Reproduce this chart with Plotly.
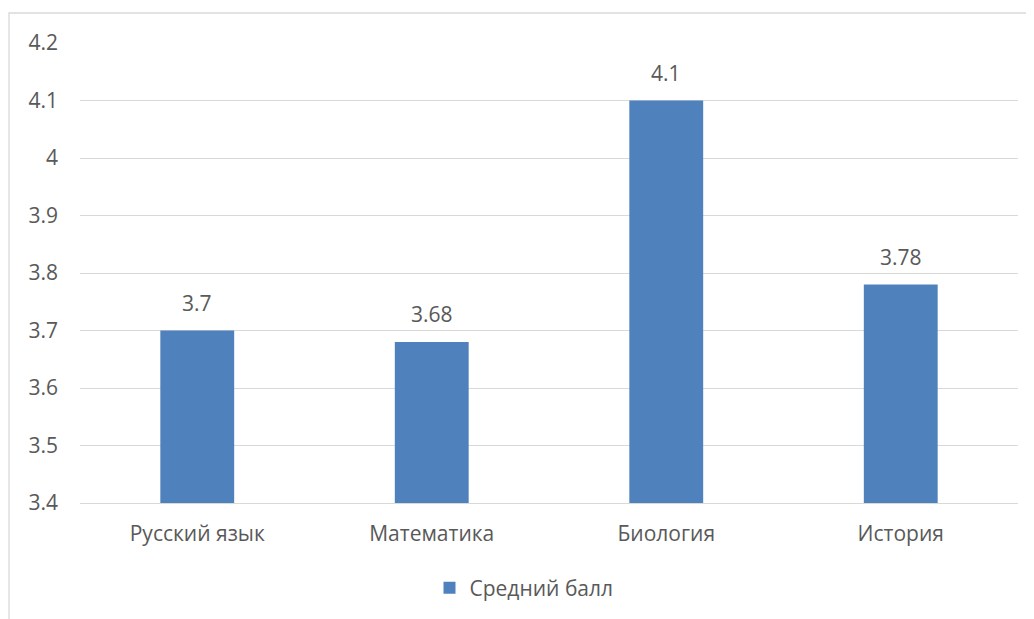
import plotly.graph_objects as go

categories = ["Русский язык", "Математика", "Биология", "История"]
values = [3.7, 3.68, 4.1, 3.78]
value_labels = ["3.7", "3.68", "4.1", "3.78"]
tick_vals = [3.4, 3.5, 3.6, 3.7, 3.8, 3.9, 4.0, 4.1, 4.2]
tick_text = ["3.4", "3.5", "3.6", "3.7", "3.8", "3.9", "4", "4.1", "4.2"]
series_name = "Средний балл"

FONT = "Open Sans, sans-serif"
TXT = "#595959"
FS = 21

fig = go.Figure()
fig.add_trace(go.Bar(x=categories, y=values, name=series_name,
                     marker=dict(color="#4F81BD", line=dict(width=0))))

for c, v, t in zip(categories, values, value_labels):
    fig.add_annotation(x=c, y=v, text=t, showarrow=False, yanchor="bottom",
                       yshift=12, font=dict(family=FONT, size=FS, color=TXT))

# page body has an 8px offset
OFF = 8
L, R, T, B = 80 - OFF, 16 + OFF, 43 - OFF, 116 + OFF
W, H = 1034, 619
pw, ph = W - L - R, H - T - B
fig.add_shape(type="rect", xref="paper", yref="paper",
              x0=(9 - OFF - L) / pw, x1=(1033 - OFF - L) / pw,
              y0=(H - B - 640) / ph, y1=(H - B - (13 - OFF)) / ph,
              line=dict(color="#D9D9D9", width=1.3), fillcolor="rgba(0,0,0,0)",
              layer="below")

fig.update_layout(
    width=W, height=H,
    margin=dict(l=L, r=R, t=T, b=B),
    paper_bgcolor="white", plot_bgcolor="white",
    bargap=0.685,
    font=dict(family=FONT, size=FS, color=TXT),
    showlegend=True,
    legend=dict(orientation="h", x=(524 - 80) / pw, xanchor="center",
                y=(503 - 588) / ph, yanchor="middle",
                font=dict(family=FONT, size=FS, color=TXT)),
    xaxis=dict(showgrid=False, showline=True, linecolor="#D9D9D9", linewidth=1.3,
               ticks="", ticklabelstandoff=12, tickfont=dict(size=FS, color=TXT)),
    yaxis=dict(range=[3.4, 4.2], tickvals=tick_vals, ticktext=tick_text,
               showgrid=True, gridcolor="#D9D9D9", gridwidth=1.3,
               zeroline=False, showline=False, ticks="",
               ticklabelstandoff=21, tickfont=dict(size=FS, color=TXT)),
)

fig.write_html("out.html")
